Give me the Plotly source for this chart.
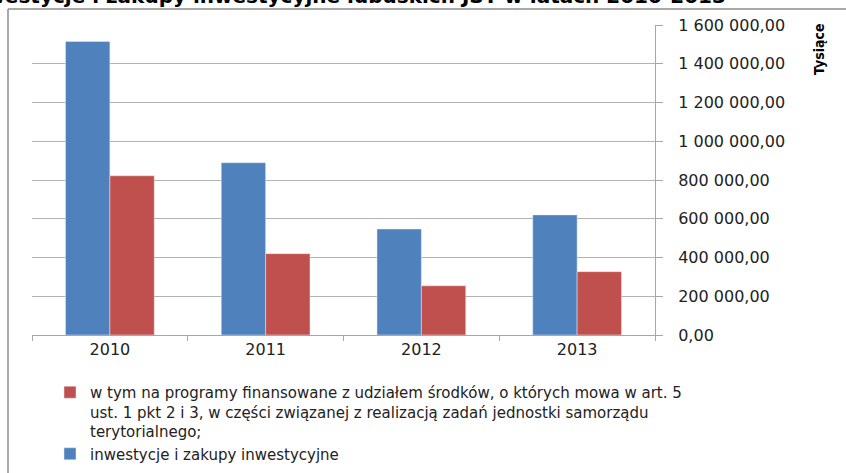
import plotly.graph_objects as go

years = ["2010", "2011", "2012", "2013"]
inwestycje = [1515000, 889000, 547000, 620000]
programy = [822000, 420000, 254000, 327000]
name_inw = "inwestycje i zakupy inwestycyjne"
name_prog = ("w tym na programy finansowane z udziałem środków, o których mowa w art. 5<br>"
             "ust. 1 pkt 2 i 3, w części związanej z realizacją zadań jednostki samorządu<br>"
             "terytorialnego;")
y_ticks = [0, 200000, 400000, 600000, 800000, 1000000, 1200000, 1400000, 1600000]
title_text = "Wydatki na inwestycje i zakupy inwestycyjne lubuskich JST w latach 2010-2013"
y_label = "Tysiące"

W, H = 846, 473
L, R, T, B = 32, 191, 25, 138
PW, PH = W - L - R, H - T - B


def px(x):
    return (x - L) / PW


def py(y):
    return (H - B - y) / PH


fig = go.Figure()
fig.add_trace(go.Bar(x=years, y=inwestycje, name=name_inw, marker_color="#4F81BD"))
fig.add_trace(go.Bar(x=years, y=programy, name=name_prog, marker_color="#C0504D"))

fig.update_layout(
    width=W, height=H,
    margin=dict(l=L, r=R, t=T, b=B, pad=0, autoexpand=False),
    paper_bgcolor="white", plot_bgcolor="white",
    barmode="group", bargap=0.43, bargroupgap=0,
    separators=", ",
    font=dict(family="DejaVu Sans", size=16, color="#333333"),
    showlegend=True,
    legend=dict(
        orientation="v", traceorder="reversed", valign="top",
        x=px(50), y=py(376), xanchor="left", yanchor="top",
        font=dict(family="DejaVu Sans", size=15, color="#222222"),
        bgcolor="rgba(0,0,0,0)", tracegroupgap=0,
    ),
    xaxis=dict(
        type="category", showgrid=False, showline=True, linecolor="#a6a6a6", linewidth=1,
        ticks="outside", ticklen=5, tickcolor="#a6a6a6", tickson="boundaries",
        tickfont=dict(family="DejaVu Sans", size=16, color="#222222"),
        fixedrange=True,
    ),
    yaxis=dict(
        side="right", range=[0, 1600000], tickvals=y_ticks, tickformat=",.2f",
        showgrid=True, gridcolor="#b3b3b3", gridwidth=1,
        showline=True, linecolor="#a6a6a6", linewidth=1,
        ticks="outside", ticklen=7, tickcolor="#a6a6a6",
        ticklabelstandoff=12,
        tickfont=dict(family="DejaVu Sans", size=16, color="#222222"),
        zeroline=False, fixedrange=True,
    ),
    annotations=[
        dict(text="<b>" + title_text + "</b>", xref="paper", yref="paper",
             x=px(728), y=py(10.5), xanchor="right", yanchor="bottom", showarrow=False,
             font=dict(family="DejaVu Sans", size=20, color="#000000")),
        dict(text="<b>" + y_label + "</b>", xref="paper", yref="paper",
             x=px(819), y=py(50), xanchor="center", yanchor="middle", showarrow=False,
             textangle=-90,
             font=dict(family="Liberation Sans Narrow, DejaVu Sans Condensed, Liberation Sans",
                       size=14, color="#000000")),
    ],
    shapes=[
        dict(type="line", xref="paper", yref="paper", x0=px(8), x1=px(850), y0=py(9), y1=py(9),
             line=dict(color="#8c8c8c", width=1.5)),
        dict(type="line", xref="paper", yref="paper", x0=px(8), x1=px(8), y0=py(9), y1=py(480),
             line=dict(color="#8c8c8c", width=1.5)),
    ],
)

fig.write_html("out.html", config={"displayModeBar": False},
               post_script="document.body.style.margin='0';")
